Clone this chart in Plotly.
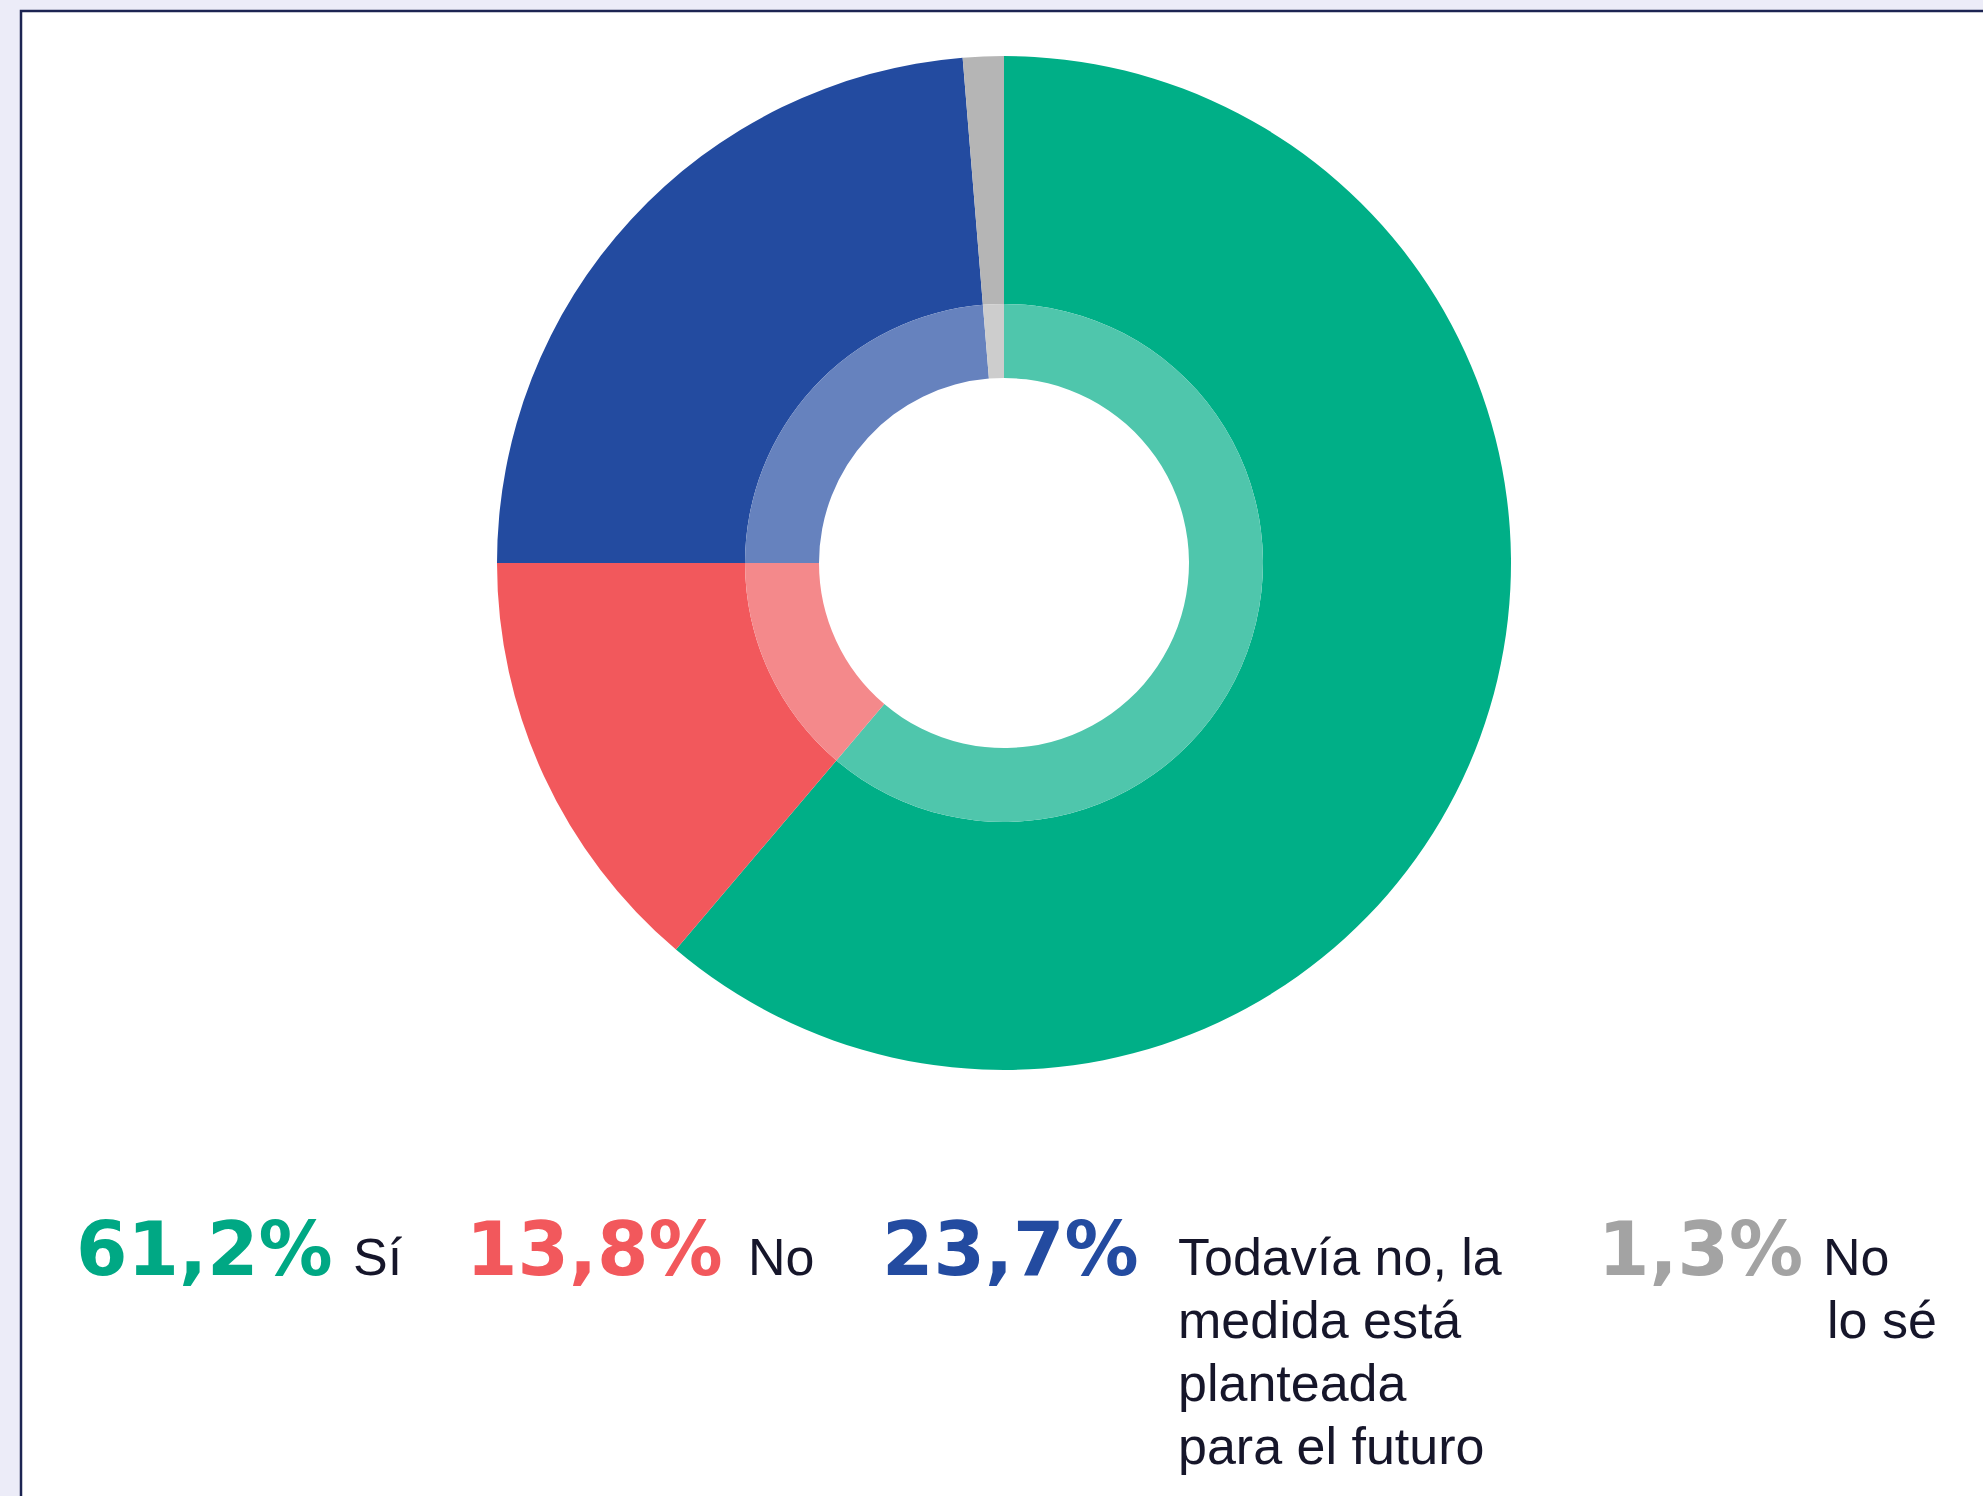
import plotly.graph_objects as go

# ---- data ----
categories = ["Sí", "No", "Todavía no, la medida está planteada para el futuro", "No lo sé"]
values = [61.2, 13.8, 23.7, 1.3]
value_labels = ["61,2%", "13,8%", "23,7%", "1,3%"]
legend_lines = [["Sí"], ["No"], ["Todavía no, la", "medida está", "planteada", "para el futuro"], ["No", "lo sé"]]

# ---- style ----
W, H = 1983, 1496
outer_colors = ["#00AF87", "#F2585C", "#234BA0", "#B5B5B5"]
inner_colors = ["#4FC6AC", "#F4898B", "#6682BE", "#CDCDCD"]
value_colors = ["#00A884", "#F2585C", "#234BA0", "#A3A3A3"]

cx, cy = 1004, 563
r_out, r_mid, r_hole = 507, 259, 185


def px_x(x):
    return x / W


def px_y(y):
    return 1 - y / H


fig = go.Figure()
fig.add_trace(go.Pie(
    labels=categories, values=values, sort=False, direction="clockwise", rotation=0,
    hole=r_mid / r_out, textinfo="none", hoverinfo="label+percent",
    marker=dict(colors=outer_colors, line=dict(width=0)), showlegend=False,
    domain=dict(x=[px_x(cx - r_out), px_x(cx + r_out)], y=[px_y(cy + r_out), px_y(cy - r_out)]),
))
fig.add_trace(go.Pie(
    labels=categories, values=values, sort=False, direction="clockwise", rotation=0,
    hole=r_hole / r_mid, textinfo="none", hoverinfo="label+percent",
    marker=dict(colors=inner_colors, line=dict(width=0)), showlegend=False,
    domain=dict(x=[px_x(cx - r_mid), px_x(cx + r_mid)], y=[px_y(cy + r_mid), px_y(cy - r_mid)]),
))

# legend-like annotations
num_x = [74, 464, 880, 1596]
txt_x = [351, 746, 1176, 1821]
line_gap = 63
anns = []
for i in range(4):
    anns.append(dict(
        x=px_x(num_x[i]), y=px_y(1249), xref="paper", yref="paper", xanchor="left", yanchor="middle",
        text="<b>" + value_labels[i] + "</b>", showarrow=False,
        font=dict(family="DejaVu Sans", size=74, color=value_colors[i]),
    ))
    for j, ln in enumerate(legend_lines[i]):
        anns.append(dict(
            x=px_x(txt_x[i] + (4 if (i == 3 and j == 1) else 0)), y=px_y(1257 + j * line_gap),
            xref="paper", yref="paper", xanchor="left", yanchor="middle",
            text=ln, showarrow=False,
            font=dict(family="Liberation Sans, Arial", size=52, color="#16162A"),
        ))

fig.update_layout(
    width=W, height=H,
    margin=dict(l=0, r=0, t=0, b=0),
    paper_bgcolor="#ECECF8",
    plot_bgcolor="#ECECF8",
    shapes=[dict(
        type="rect", xref="paper", yref="paper",
        x0=px_x(21), x1=1.05, y0=-0.05, y1=px_y(11),
        fillcolor="white", line=dict(color="#1C2452", width=2.5), layer="below",
    )],
    annotations=anns,
)

fig.write_html(
    "out.html",
    config={"displayModeBar": False},
    post_script="document.body.style.margin='0';document.body.style.background='#ECECF8';document.body.style.overflow='hidden';",
)
